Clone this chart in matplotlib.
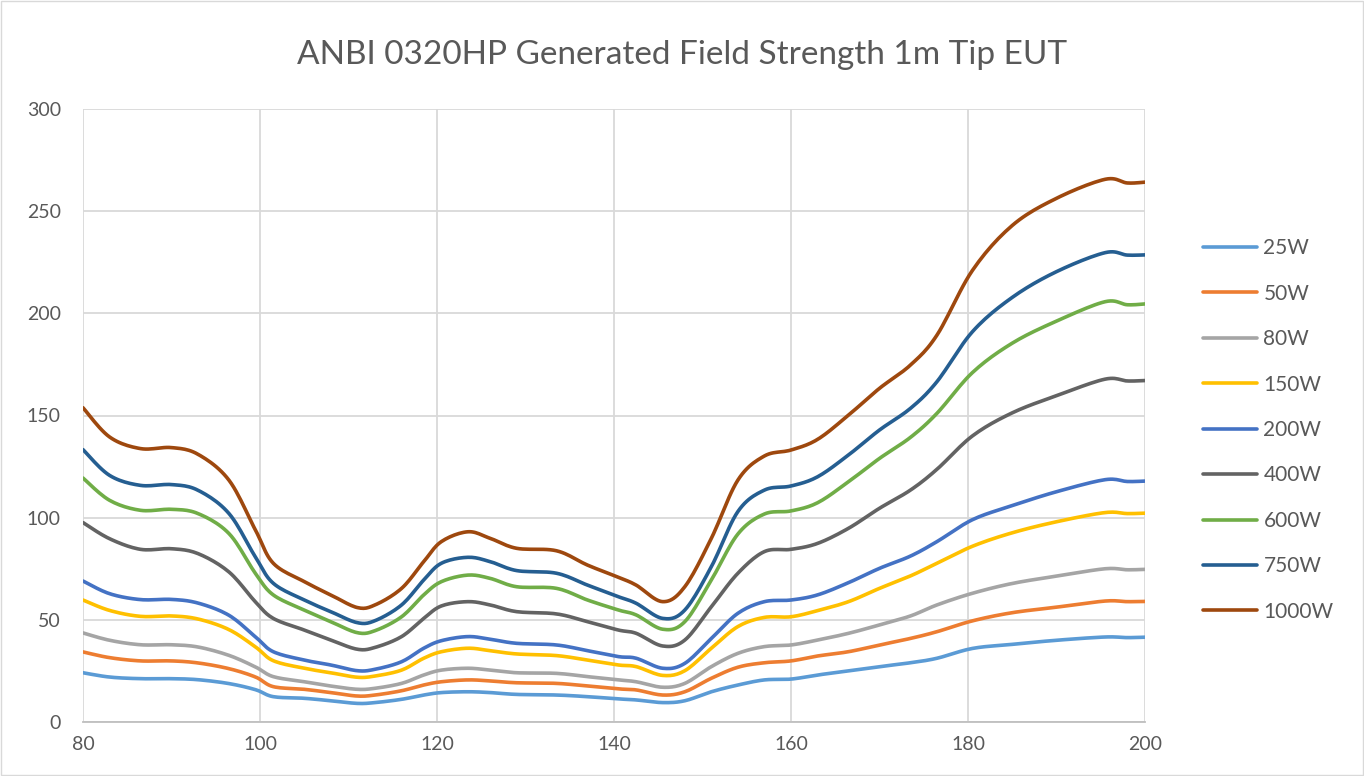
import numpy as np
import matplotlib
matplotlib.use("Agg")
import matplotlib.pyplot as plt
from matplotlib.patches import Rectangle

plt.rcParams['font.family'] = ['Lato', 'DejaVu Sans']

freq = [80, 83, 86.5, 90, 93, 96.5, 99.5, 101.5, 105, 108, 111, 113, 116, 118.5, 120.5,
        123.5, 126, 129, 133.5, 137, 140.5, 142.5, 145.5, 148, 151, 154, 157, 160, 163,
        166.5, 170, 173.5, 176.5, 180.5, 185, 190, 195.5, 198, 200]

w25 = [24.1, 22, 21.2, 21.2, 20.7, 18.8, 15.8, 12.4, 11.6, 10.4, 9.1, 9.5, 11.1, 13.2, 14.4,
       14.8, 14.4, 13.5, 13.2, 12.4, 11.3, 10.8, 9.5, 10.4, 14.8, 18.1, 20.6, 21, 23,
       25, 27.1, 29, 31.2, 36, 38, 40, 41.6, 41.3, 41.5]
w50 = [34.3, 31.5, 29.9, 29.9, 28.9, 26.1, 22.0, 17.3, 16, 14.4, 12.7, 13.2, 15.3, 18.1, 19.7,
       20.6, 20.1, 19.2, 18.9, 17.6, 16.2, 15.7, 13.2, 14.8, 21.4, 26.8, 29, 29.9, 32.3,
       34.4, 37.7, 40.9, 44.2, 49.5, 53.5, 56.2, 59.2, 58.9, 59]
w80 = [43.6, 40.0, 37.8, 37.8, 36.7, 32.6, 26.9, 22.2, 19.7, 17.6, 16.0, 16.5, 18.9, 23.0, 25.4,
       26.3, 25.4, 24.1, 23.8, 22.2, 20.6, 19.7, 17, 18.9, 27.1, 33.6, 36.9, 37.7, 40.1,
       43.4, 47.5, 51.9, 57.3, 63, 67.8, 71.4, 75, 74.5, 74.7]
w150 = [59.7, 54.6, 51.7, 51.9, 50.4, 45.2, 36.7, 30, 26.3, 24.1, 21.9, 22.5, 25.4, 31.2, 34.4,
        36.1, 34.9, 33.3, 32.5, 30.3, 27.9, 27.1, 22.8, 25.1, 36.1, 46.7, 51.2, 51.5, 54.5,
        58.9, 65.4, 71.5, 77.7, 86, 92.6, 98, 102.5, 102, 102.2]
w200 = [69.0, 62.8, 59.9, 60.0, 58.2, 52.2, 41.6, 34.4, 30.3, 27.9, 25.1, 25.8, 29.5, 36.1, 39.8,
        41.8, 40.5, 38.5, 37.7, 34.9, 32, 31.2, 26.3, 28.7, 40.9, 53.2, 58.9, 59.7, 62.2,
        68.2, 75.2, 81.2, 88.3, 99, 105.9, 112.7, 118.6, 117.7, 117.9]
w400 = [97.6, 89.7, 84.5, 84.8, 82.4, 73.4, 58.7, 50.7, 45, 40.1, 35.6, 36.5, 41.8, 50.7, 56.8,
        58.9, 57.3, 54, 52.9, 49.1, 45, 43.4, 37.2, 40.1, 56.4, 72.8, 83.4, 84.5, 87.4,
        94.8, 104.6, 113.5, 123.7, 140, 151.3, 159.7, 167.8, 166.9, 167.1]
w600 = [119.4, 108.5, 103.6, 104.1, 102, 92.2, 72.6, 62.2, 54.8, 49.1, 43.7, 44.7, 51.5, 62.2, 68.7,
        71.9, 70.3, 66.2, 65.4, 59.7, 54.8, 52.4, 45.4, 49.1, 69.5, 92, 101.8, 103.3, 107.3,
        117.6, 129, 139.3, 151.1, 171, 185.4, 196.2, 205.7, 204.2, 204.6]
w750 = [133.3, 120.7, 115.8, 116.2, 113.4, 102, 80.6, 67.9, 59.7, 54, 48.6, 49.6, 57.3, 69.5, 77.7,
        80.6, 78.5, 74.1, 72.8, 67, 61.3, 58.1, 50.7, 54.8, 76, 103, 113.5, 115.5, 120,
        130.7, 142.9, 153.5, 166.6, 191, 207.8, 220.4, 229.7, 228.5, 228.6]
w1000 = [153.8, 139.5, 133.8, 134.3, 131, 118.3, 93.8, 77.7, 68.7, 62.2, 56, 57.3, 65.4, 78.5, 88.3,
         93.1, 89.9, 85, 83.8, 76.8, 70.8, 67, 58.9, 66.2, 89.9, 118.4, 130.2, 133.1, 138.3,
         150.2, 163.3, 174.7, 189.4, 221, 243, 256.3, 265.6, 263.8, 264.2]

labels = ['25W', '50W', '80W', '150W', '200W', '400W', '600W', '750W', '1000W']
series = [w25, w50, w80, w150, w200, w400, w600, w750, w1000]
colors = ['#5B9BD5', '#ED7D31', '#A5A5A5', '#FFC000', '#4472C4',
          '#636363', '#70AD47', '#255E91', '#9E480E']


def smooth(x, y, n=12):
    # Catmull-Rom through the points, like Excel's smoothed line
    p = np.column_stack([x, y]).astype(float)
    p = np.vstack([p[0], p, p[-1]])
    out = []
    t = np.linspace(0, 1, n, endpoint=False)[:, None]
    for i in range(1, len(p) - 2):
        p0, p1, p2, p3 = p[i - 1], p[i], p[i + 1], p[i + 2]
        m1 = (p2 - p0) / 2
        m2 = (p3 - p1) / 2
        h00 = 2 * t**3 - 3 * t**2 + 1
        h10 = t**3 - 2 * t**2 + t
        h01 = -2 * t**3 + 3 * t**2
        h11 = t**3 - t**2
        out.append(h00 * p1 + h10 * m1 + h01 * p2 + h11 * m2)
    out.append(p[-2][None, :])
    out = np.vstack(out)
    return out[:, 0], out[:, 1]


fig = plt.figure(figsize=(13.64, 7.76), dpi=100)
ax = fig.add_axes([83 / 1364, 1 - 722 / 776, (1145 - 83) / 1364, (722 - 109) / 776])

for lab, vals, c in zip(labels, series, colors):
    sx, sy = smooth(freq, vals)
    ax.plot(sx, sy, color=c, lw=2.6, label=lab, solid_capstyle='round')

ax.set_xlim(80, 200)
ax.set_ylim(0, 300)
ax.set_xticks(range(80, 201, 20))
ax.set_yticks(range(0, 301, 50))
ax.grid(True, color='#D9D9D9', lw=1.3)
ax.set_axisbelow(True)
for s in ['top', 'right', 'left']:
    ax.spines[s].set_visible(False)
ax.spines['bottom'].set_color('#BFBFBF')
ax.spines['bottom'].set_linewidth(1.3)
ax.tick_params(length=0, labelsize=14, labelcolor='#595959')
ax.tick_params(axis='y', pad=16)
ax.tick_params(axis='x', pad=10)

fig.suptitle('ANBI 0320HP Generated Field Strength 1m Tip EUT', x=0.5, y=1 - 55 / 776,
             va='center', fontsize=24, color='#595959')

fig.legend(loc='center left', bbox_to_anchor=(1203 / 1364, 1 - 430 / 776), frameon=False,
           fontsize=15, handlelength=2.6, handletextpad=0.3, labelspacing=1.22,
           borderpad=0, borderaxespad=0, labelcolor='#595959')

fig.patches.append(Rectangle((0.001, 0.001), 0.998, 0.998, transform=fig.transFigure,
                             fill=False, edgecolor='#D9D9D9', lw=1))

fig.savefig('out.png', dpi=100)
